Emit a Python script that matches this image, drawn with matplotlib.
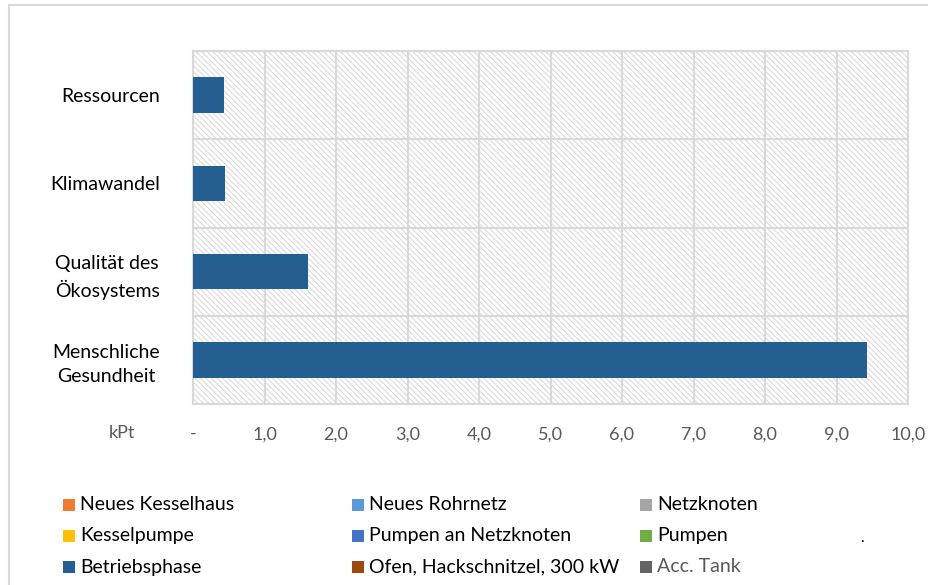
import matplotlib.pyplot as plt
from matplotlib.patches import Rectangle
import numpy as np

plt.rcParams['font.family'] = ['Lato', 'DejaVu Sans']
plt.rcParams['hatch.linewidth'] = 0.7

# impact categories (bottom to top)
categories = ['Menschliche\nGesundheit', 'Qualität des\nÖkosystems', 'Klimawandel', 'Ressourcen']

# stacked contributions in kPt, one list per legend entry
series_names = ['Neues Kesselhaus', 'Neues Rohrnetz', 'Netzknoten',
                'Kesselpumpe', 'Pumpen an Netzknoten', 'Pumpen',
                'Betriebsphase', 'Ofen, Hackschnitzel, 300 kW', 'Acc. Tank']
series_colors = ['#ED7D31', '#5B9BD5', '#A5A5A5',
                 '#FFC000', '#4472C4', '#70AD47',
                 '#255E91', '#9E480E', '#636363']
neues_kesselhaus = [0, 0, 0, 0]
neues_rohrnetz = [0, 0, 0, 0]
netzknoten = [0, 0, 0, 0]
kesselpumpe = [0, 0, 0, 0]
pumpen_netzknoten = [0, 0, 0, 0]
pumpen = [0, 0, 0, 0]
betriebsphase = [9.42, 1.61, 0.45, 0.43]
ofen = [0, 0, 0, 0]
acc_tank = [0, 0, 0, 0]
series_vals = [neues_kesselhaus, neues_rohrnetz, netzknoten,
               kesselpumpe, pumpen_netzknoten, pumpen,
               betriebsphase, ofen, acc_tank]

xticks = [0, 1, 2, 3, 4, 5, 6, 7, 8, 9, 10]
xticklabels = ['-', '1,0', '2,0', '3,0', '4,0', '5,0', '6,0', '7,0', '8,0', '9,0', '10,0']

fig = plt.figure(figsize=(9.29, 5.85), dpi=100, facecolor='white')
fig.patches.append(Rectangle((9/929, -0.1), 1.0, 1 - 5/585 + 0.1, transform=fig.transFigure,
                             fill=False, edgecolor='#d9d9d9', lw=1.5))

ax = fig.add_axes([193/929, 1 - 404/585, 715/929, 353/585])

# hatched plot area
ax.add_patch(Rectangle((0, 0), 1, 1, transform=ax.transAxes, facecolor='white',
                       edgecolor='#d6d6d6', hatch='\\' * 6, lw=0, zorder=0))

y = np.arange(len(categories))
left = np.zeros(len(categories))
for name, col, vals in zip(series_names, series_colors, series_vals):
    v = np.array(vals, dtype=float)
    ax.barh(y, v, left=left, height=0.4, color=col, lw=0, zorder=3)
    left += v

ax.set_xlim(0, 10)
ax.set_ylim(-0.5, 3.5)
ax.set_xticks(xticks)
ax.set_xticklabels(xticklabels, fontsize=13, color='#595959')
ax.set_yticks(y)
ax.set_yticklabels(categories, fontsize=14, color='#000000', multialignment='center',
                   linespacing=1.5)
ax.set_yticks(np.arange(-0.5, 3.6, 1), minor=True)
ax.tick_params(axis='both', which='both', length=0)
ax.tick_params(axis='x', pad=16)
ax.tick_params(axis='y', pad=24)
ax.grid(axis='x', which='major', color='#d9d9d9', lw=1.5, zorder=1)
ax.grid(axis='y', which='minor', color='#d9d9d9', lw=1.5, zorder=1)
ax.set_axisbelow(True)
for s in ax.spines.values():
    s.set_color('#d9d9d9')
    s.set_linewidth(1.5)

fig.text(122/929, 1 - 433/585, 'kPt', fontsize=13, color='#595959', ha='center', va='center')

# legend laid out in three columns
col_x = [63, 352, 640]
row_y = [505, 536, 567]
for i, (name, col) in enumerate(zip(series_names, series_colors)):
    r, c = divmod(i, 3)
    x0 = col_x[c] / 929
    y0 = 1 - row_y[r] / 585
    fig.patches.append(Rectangle((x0, y0 - 6/585), 12/929, 12/585, transform=fig.transFigure,
                                 facecolor=col, lw=0))
    tcol = '#595959' if name == 'Acc. Tank' else '#000000'
    fig.text(x0 + 17/929, y0, name, fontsize=14, color=tcol, va='center', ha='left')
fig.text(860/929, 1 - 538/585, '.', fontsize=11, color='#000000', va='center')

fig.savefig('out.png', dpi=100, facecolor='white')
